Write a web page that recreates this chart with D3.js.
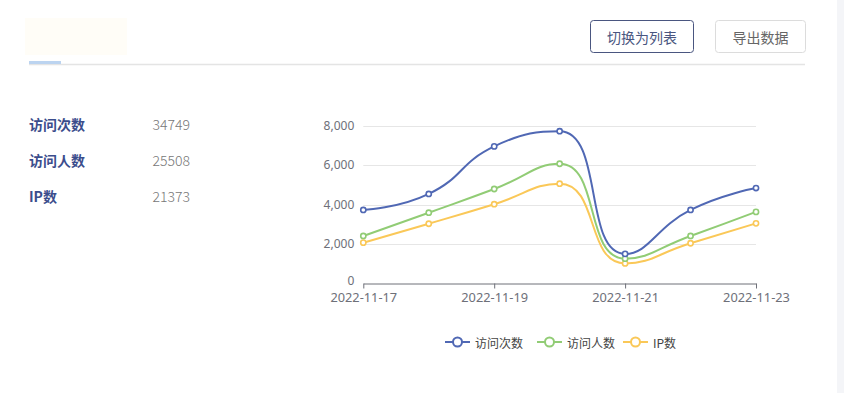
<!DOCTYPE html>
<html>
<head>
<meta charset="utf-8">
<script src="https://cdn.jsdelivr.net/npm/d3@7"></script>
<style>
body{margin:0;background:#fff;font-family:"Noto Sans CJK SC","Noto Sans",sans-serif;}
svg{display:block;}
</style>
</head>
<body>
<svg width="844" height="393"></svg>
<script>
var dates = ['2022-11-17','2022-11-18','2022-11-19','2022-11-20','2022-11-21','2022-11-22','2022-11-23'];
var seriesNames = ['访问次数','访问人数','IP数'];
var visits = [3730, 4540, 6950, 7720, 1500, 3730, 4840];
var visitors = [2410, 3590, 4790, 6070, 1260, 2410, 3630];
var ips = [2070, 3030, 4020, 5060, 1020, 2040, 3050];
var totals = [34749, 25508, 21373];
var yTicks = [0, 2000, 4000, 6000, 8000];
var xLabels = ['2022-11-17','2022-11-19','2022-11-21','2022-11-23'];
var colors = ['#5068b4','#91cc75','#fac858'];

var svg = d3.select('svg');

// page chrome
svg.append('rect').attr('x',837).attr('y',0).attr('width',7).attr('height',393).attr('fill','#f4f5f8');
svg.append('rect').attr('x',25).attr('y',18).attr('width',102).attr('height',37).attr('fill','#fffdf7');
svg.append('line').attr('x1',29).attr('x2',805).attr('y1',64.5).attr('y2',64.5).attr('stroke','#e4e4e4').attr('stroke-width',1.5);
svg.append('rect').attr('x',29).attr('y',61).attr('width',32).attr('height',3).attr('fill','#bcd4f0');

var btns = [{t:'切换为列表',x:590,w:103,stroke:'#4a5680',fill:'#4a5680'},{t:'导出数据',x:715,w:90,stroke:'#dcdcdc',fill:'#666'}];
btns.forEach(function(b){
  svg.append('rect').attr('x',b.x+0.5).attr('y',20.5).attr('width',b.w).attr('height',32)
    .attr('rx',3).attr('fill','#fff').attr('stroke',b.stroke);
  svg.append('text').attr('x',b.x+b.w/2+0.5).attr('y',37).attr('text-anchor','middle')
    .attr('dominant-baseline','central').attr('font-size',14).attr('fill',b.fill).text(b.t);
});

// stats
seriesNames.forEach(function(n,i){
  var y = 124 + i*36;
  svg.append('text').attr('x',29).attr('y',y).attr('dominant-baseline','central')
    .attr('font-size',14).attr('font-weight','bold').attr('fill','#3b4d8c').text(n);
  svg.append('text').attr('x',190).attr('y',y).attr('text-anchor','end').attr('dominant-baseline','central')
    .attr('font-size',14).attr('font-weight',300).attr('fill','#777').text(totals[i]);
});

// chart
var xScale = d3.scalePoint().domain(dates).range([363.3, 756]);
var yScale = d3.scaleLinear().domain([0,8000]).range([283.5, 125.7]);

var grid = svg.append('g');
grid.selectAll('line').data(yTicks.slice(1)).enter().append('line')
  .attr('x1',363.3).attr('x2',756)
  .attr('y1',function(d){return Math.round(yScale(d))+0.5;})
  .attr('y2',function(d){return Math.round(yScale(d))+0.5;})
  .attr('stroke','#e6e6e6');

var yaxis = d3.axisLeft(yScale).tickValues(yTicks).tickSize(0).tickPadding(9).tickFormat(d3.format(','));
var ya = svg.append('g').attr('transform','translate(363.3,0)').call(yaxis);
ya.select('.domain').remove();
ya.selectAll('text').attr('font-size',12).attr('fill','#6e7079').attr('font-family','"Noto Sans","DejaVu Sans",sans-serif')
  .attr('dy',function(d){return d===0 ? '0.05em' : '0.32em';});

var xaxis = d3.axisBottom(xScale).tickValues(xLabels).tickSize(5).tickSizeOuter(0).tickPadding(4);
var xa = svg.append('g').attr('transform','translate(0,283.5)').call(xaxis);
xa.select('.domain').attr('stroke','#6e7079');
xa.selectAll('.tick line').attr('stroke','#6e7079');
xa.selectAll('text').attr('font-size',12.8).attr('fill','#6e7079').attr('font-family','"Noto Sans","DejaVu Sans",sans-serif');

// echarts-like smooth curve
function smoothPath(pts, smooth){
  var p = d3.path();
  var cpx0, cpy0;
  for (var i=0;i<pts.length;i++){
    var x=pts[i][0], y=pts[i][1];
    if (i===0){ p.moveTo(x,y); cpx0=x; cpy0=y; continue; }
    var prevX=pts[i-1][0], prevY=pts[i-1][1];
    var nextX, nextY, cpx1, cpy1, ncx=x, ncy=y;
    if (i<pts.length-1){
      nextX=pts[i+1][0]; nextY=pts[i+1][1];
      var vx=nextX-prevX, vy=nextY-prevY;
      var l0=Math.hypot(x-prevX,y-prevY), l1=Math.hypot(nextX-x,nextY-y);
      var r=l1/(l0+l1);
      ncx=x+vx*smooth*r; ncy=y+vy*smooth*r;
      ncx=Math.min(ncx,Math.max(nextX,x)); ncy=Math.min(ncy,Math.max(nextY,y));
      ncx=Math.max(ncx,Math.min(nextX,x)); ncy=Math.max(ncy,Math.min(nextY,y));
      vx=ncx-x; vy=ncy-y;
      cpx1=x-vx*l0/l1; cpy1=y-vy*l0/l1;
      cpx1=Math.min(cpx1,Math.max(prevX,x)); cpy1=Math.min(cpy1,Math.max(prevY,y));
      cpx1=Math.max(cpx1,Math.min(prevX,x)); cpy1=Math.max(cpy1,Math.min(prevY,y));
      vx=x-cpx1; vy=y-cpy1;
      ncx=x+vx*l1/l0; ncy=y+vy*l1/l0;
    } else {
      cpx1=x; cpy1=y;
    }
    p.bezierCurveTo(cpx0,cpy0,cpx1,cpy1,x,y);
    cpx0=ncx; cpy0=ncy;
  }
  return p.toString();
}

var allSeries = [visits, visitors, ips];
var lines = svg.append('g');
allSeries.slice().reverse().forEach(function(vals,ri){
  var i = allSeries.length-1-ri;
  var pts = vals.map(function(v,j){return [xScale(dates[j]), yScale(v)];});
  lines.append('path').attr('d',smoothPath(pts,0.5)).attr('fill','none')
    .attr('stroke',colors[i]).attr('stroke-width',2);
  lines.selectAll('circle.s'+i).data(vals).enter().append('circle').attr('class','s'+i)
    .attr('cx',function(d,j){return xScale(dates[j]);})
    .attr('cy',function(d){return yScale(d);})
    .attr('r',2.6).attr('fill','#fff').attr('stroke',colors[i]).attr('stroke-width',1.6);
});

// legend
var legX = [445, 537, 623];
var leg = svg.append('g');
seriesNames.forEach(function(n,i){
  var g = leg.append('g').attr('transform','translate('+legX[i]+',342)');
  g.append('line').attr('x1',0).attr('x2',25).attr('stroke',colors[i]).attr('stroke-width',2);
  g.append('circle').attr('cx',12.5).attr('r',4.5).attr('fill','#fff').attr('stroke',colors[i]).attr('stroke-width',2);
  g.append('text').attr('x',30).attr('dominant-baseline','central').attr('font-size',12).attr('fill','#444').text(n);
});
</script>
</body>
</html>
